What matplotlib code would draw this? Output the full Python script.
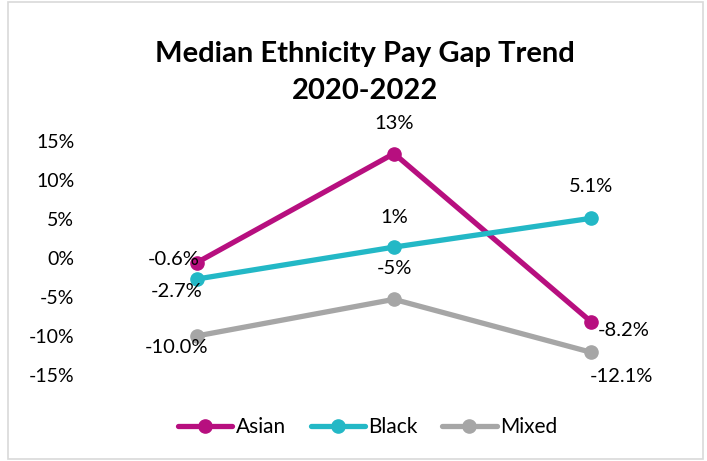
import matplotlib
matplotlib.use("Agg")
import matplotlib.pyplot as plt
from matplotlib.patches import Rectangle

years = ["2020", "2021", "2022"]
asian = [-0.6, 13.4, -8.2]
black = [-2.7, 1.4, 5.1]
mixed = [-10.0, -5.3, -12.1]
asian_labels = ["-0.6%", "13%", "-8.2%"]
black_labels = ["-2.7%", "1%", "5.1%"]
mixed_labels = ["-10.0%", "-5%", "-12.1%"]
yticks = [-15, -10, -5, 0, 5, 10, 15]
ytick_labels = ["-15%", "-10%", "-5%", "0%", "5%", "10%", "15%"]

plt.rcParams['font.family'] = ['Lato', 'DejaVu Sans']

fig = plt.figure(figsize=(7.07, 4.61), dpi=100)
fig.patch.set_facecolor("white")
fig.add_artist(Rectangle((0.012, 0.004), 0.983, 0.992, transform=fig.transFigure,
                         fill=False, edgecolor="#d9d9d9", linewidth=1.2))

ax = fig.add_axes([0.1386, 0.1866, 0.8374, 0.5074])
x = list(range(len(years)))

# label placements: (dx px, dy px, ha, va) relative to point
series = [
    ("Asian", asian, asian_labels, "#B70F7F",
     [(3, 3, "right", "center"), (0, 30, "center", "center"), (6, -9, "left", "center")]),
    ("Black", black, black_labels, "#23B8C6",
     [(-20, -12, "center", "center"), (0, 30, "center", "center"), (0, 32, "center", "center")]),
    ("Mixed", mixed, mixed_labels, "#A6A6A6",
     [(-20, -12, "center", "center"), (0, 31, "center", "center"), (30, -24, "center", "center")]),
]
for name, vals, labs, col, pos in series:
    ax.plot(x, vals, color=col, linewidth=3.8, marker="o", markersize=9.5,
            solid_capstyle="round", label=name)
    for xi, v, lab, (dx, dy, ha, va) in zip(x, vals, labs, pos):
        ax.annotate(lab, (xi, v), xytext=(dx, dy), textcoords="offset pixels",
                    ha=ha, va=va, fontsize=14.5)

ax.set_xlim(-0.5, 2.5)
ax.set_ylim(-15, 15)
ax.set_yticks(yticks)
ax.set_yticklabels(ytick_labels, fontsize=14)
ax.set_xticks([])
ax.tick_params(axis="y", length=0, pad=17)
for s in ax.spines.values():
    s.set_visible(False)

fig.text(0.516, 0.843, "Median Ethnicity Pay Gap Trend\n2020-2022", ha="center", va="center",
         fontsize=21, fontweight="bold", linespacing=1.5)

leg = fig.legend(loc="center", bbox_to_anchor=(0.52, 0.073), ncol=3, frameon=False,
                 fontsize=15, handlelength=2.6, columnspacing=1.2, handletextpad=0.15)

fig.savefig("out.png", dpi=100)
